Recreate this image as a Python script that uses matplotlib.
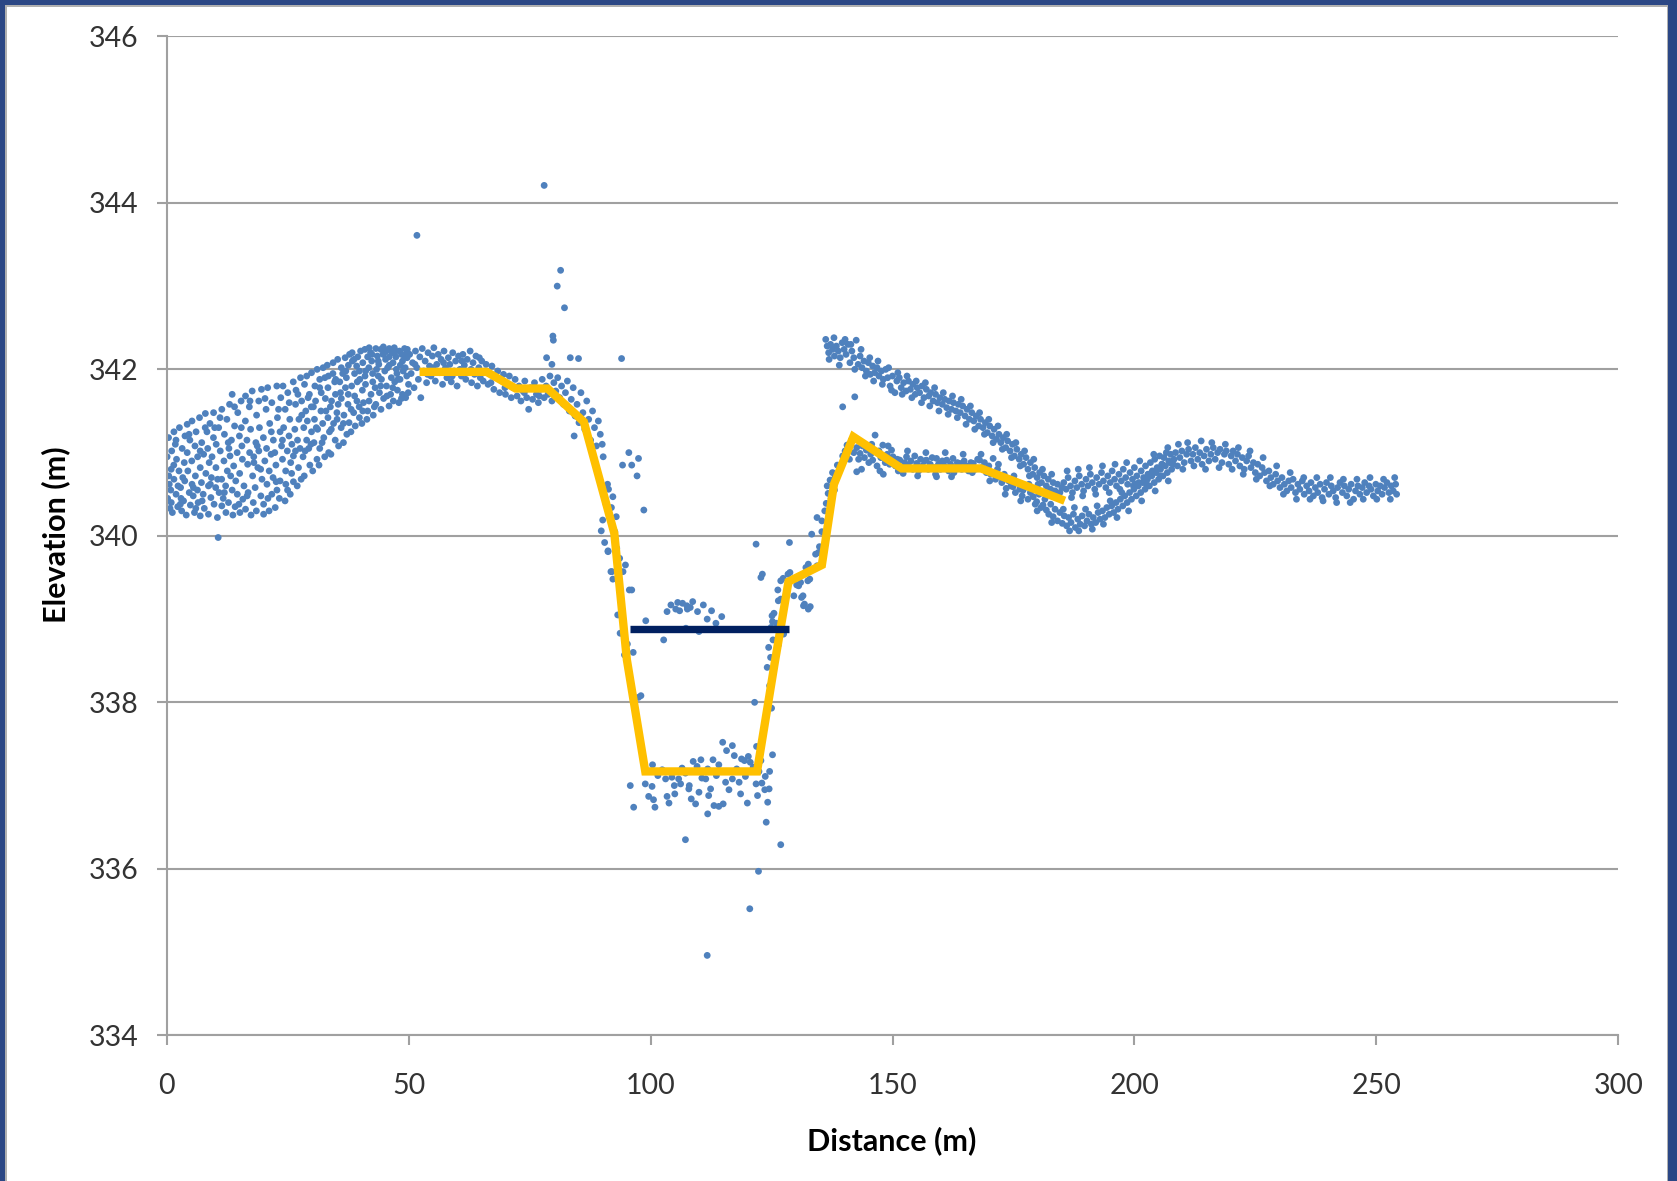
import matplotlib
matplotlib.use("Agg")
import matplotlib.pyplot as plt
from matplotlib.patches import Rectangle

# surveyed channel profile (yellow) and water level (navy)
prof_x = [53.1, 66.1, 72.1, 78.7, 86.2, 92.5, 95.1, 98.9, 122.0, 125.7, 128.5, 135.4, 137.9, 141.9, 151.9, 168.3, 184.8]
prof_y = [341.97, 341.97, 341.77, 341.77, 341.37, 340.03, 338.51, 337.17, 337.17, 338.49, 339.45, 339.65, 340.62, 341.19, 340.81, 340.81, 340.44]
water_x = [95.7, 128.7]
water_y = [338.88, 338.88]

left_slope = [
    (0.17, 340.45), (0.07, 340.95), (0.51, 340.62), (0.36, 341.18), (0.66, 340.33), (0.41, 340.72),
    (0.82, 340.55), (1.01, 341.02), (0.92, 340.40), (1.44, 340.85), (1.15, 340.28), (1.47, 341.25),
    (1.47, 340.68), (1.91, 340.50), (1.76, 341.10), (2.26, 340.35), (2.01, 340.92), (2.32, 340.60),
    (2.61, 341.30), (2.52, 340.78), (2.94, 340.45), (2.85, 340.58), (3.17, 341.05), (3.07, 340.30),
    (3.61, 340.88), (3.46, 340.42), (3.76, 341.20), (3.71, 340.66), (4.02, 340.25), (4.21, 341.34),
    (4.22, 341.00), (4.64, 340.52), (4.35, 340.78), (4.87, 340.37), (4.77, 341.15), (5.21, 340.62),
    (5.16, 340.90), (5.46, 340.48), (5.21, 341.38), (5.72, 340.28), (5.91, 340.72), (5.82, 341.08),
    (6.34, 340.55), (6.05, 341.25), (6.37, 340.95), (6.47, 340.40), (6.91, 340.82), (6.76, 341.42),
    (7.16, 340.64), (6.91, 340.24), (7.22, 341.12), (7.61, 340.98), (7.52, 340.50), (7.94, 341.30),
    (7.75, 340.33), (8.07, 340.75), (7.97, 341.47), (8.61, 340.60), (8.46, 341.05), (8.76, 340.88),
    (8.61, 340.26), (8.92, 341.35), (9.11, 340.46), (9.22, 340.70), (9.64, 341.18), (9.35, 340.95),
    (9.77, 340.38), (9.67, 341.48), (10.11, 340.58), (10.16, 340.82), (10.46, 340.22), (10.21, 341.10),
    (10.62, 339.98), (10.81, 340.52), (10.72, 341.30), (11.34, 340.68), (11.05, 341.02), (11.37, 340.36),
    (11.37, 341.52), (11.81, 340.90), (11.66, 340.45), (12.16, 340.60), (11.91, 341.22), (12.22, 340.28),
    (12.51, 340.78), (12.42, 341.40), (12.84, 341.05), (12.75, 340.40), (13.07, 340.96), (12.97, 341.58),
    (13.51, 340.55), (13.36, 341.15), (13.66, 340.25), (13.51, 341.70), (13.82, 340.84), (14.01, 341.32),
    (14.12, 340.35), (14.54, 341.00), (14.25, 340.66), (14.67, 341.48), (14.57, 340.50), (15.01, 341.20),
    (15.06, 340.75), (15.36, 341.62), (15.11, 340.28), (15.52, 341.08), (15.71, 340.44), (15.62, 340.92),
    (16.24, 341.38), (15.95, 340.60), (16.27, 341.68), (16.27, 340.32), (16.71, 340.86), (16.56, 341.15),
    (17.06, 341.55), (16.81, 340.52), (17.12, 341.00), (17.41, 340.25), (17.32, 341.28), (17.74, 340.72),
    (17.65, 341.74), (17.97, 340.95), (17.87, 340.40), (18.41, 341.12), (18.26, 340.58), (18.56, 341.45),
    (18.51, 340.30), (18.82, 340.82), (19.01, 341.62), (19.02, 341.02), (19.44, 340.48), (19.15, 341.30),
    (19.67, 340.68), (19.57, 341.76), (20.01, 340.26), (19.96, 341.18), (20.26, 340.90), (20.01, 340.38),
    (20.52, 341.52), (20.71, 340.62), (20.62, 341.05), (21.14, 340.30), (20.85, 341.78), (21.17, 340.78),
    (21.27, 341.35), (21.71, 340.50), (21.56, 340.98), (21.96, 340.70), (21.71, 341.60), (22.02, 341.15),
    (22.41, 340.34), (22.32, 341.00), (22.74, 341.80), (22.55, 340.85), (22.87, 341.42), (22.77, 340.55),
    (23.41, 341.25), (23.26, 340.45), (23.56, 341.66), (23.41, 340.66), (23.72, 341.08), (23.91, 340.92),
    (24.02, 341.80), (24.44, 340.42), (24.15, 341.30), (24.57, 340.78), (24.47, 341.52), (24.91, 341.02),
    (24.96, 340.55), (25.26, 341.20), (25.01, 341.72), (25.42, 341.40), (25.61, 340.88), (25.52, 340.50),
    (26.14, 341.85), (25.85, 341.10), (26.17, 340.65), (26.17, 340.96), (26.61, 341.58), (26.46, 341.28),
    (26.96, 340.60), (26.71, 341.75), (27.02, 341.15), (27.31, 341.40), (27.22, 340.82), (27.64, 341.90),
    (27.55, 341.05), (27.87, 341.62), (27.77, 340.68), (28.31, 341.30), (28.16, 340.95), (28.46, 341.82),
    (28.41, 340.72), (28.72, 341.50), (28.91, 341.15), (28.92, 341.92), (29.34, 341.05), (29.05, 341.38),
    (29.57, 340.85), (29.47, 341.70), (29.91, 341.25), (29.86, 341.55), (30.16, 340.78), (29.91, 341.96),
    (30.42, 341.12), (30.61, 341.80), (30.52, 341.40), (31.04, 340.92), (30.75, 341.62), (31.07, 342.00),
    (31.17, 341.28), (31.61, 341.88), (31.46, 340.85), (31.86, 341.50), (31.61, 341.05), (31.92, 341.72),
    (32.31, 342.02), (32.22, 341.35), (32.64, 340.95), (32.45, 341.18), (32.77, 341.65), (32.67, 341.90),
    (33.31, 341.42), (33.16, 342.05), (33.46, 341.00), (33.31, 341.78), (33.62, 341.25), (33.81, 341.55),
    (33.92, 340.98), (34.34, 341.95), (34.05, 341.62), (34.47, 341.35), (34.37, 342.08), (34.81, 341.15),
    (34.86, 341.70), (35.16, 341.48), (34.91, 341.88), (35.32, 342.12), (35.51, 341.08), (35.42, 341.58),
    (36.04, 341.30), (35.75, 341.85), (36.07, 342.02), (36.07, 341.65), (36.51, 341.12), (36.36, 341.95),
    (36.86, 342.14), (36.61, 341.45), (36.92, 341.78), (37.21, 341.22), (37.12, 341.90), (37.54, 342.05),
    (37.45, 341.58), (37.77, 342.18), (37.67, 341.36), (38.21, 341.80), (38.06, 341.25), (38.36, 342.10),
    (38.31, 342.20), (38.62, 341.48), (38.81, 341.95), (38.82, 341.68), (39.24, 342.04), (38.95, 341.32),
    (39.47, 342.15), (39.37, 341.85), (39.81, 341.42), (39.76, 341.55), (40.06, 342.22), (39.81, 341.98),
    (40.32, 341.35), (40.51, 342.08), (40.42, 341.75), (40.94, 342.24), (40.65, 341.60), (40.97, 341.92),
    (41.07, 341.82), (41.51, 342.15), (41.36, 341.40), (41.76, 342.02), (41.51, 341.50), (41.82, 342.26),
    (42.21, 341.70), (42.12, 342.20), (42.54, 341.95), (42.35, 342.10), (42.67, 341.45), (42.57, 341.85),
    (43.21, 342.25), (43.06, 341.78), (43.36, 342.00), (43.21, 341.58), (43.52, 342.16), (43.71, 341.92),
    (43.82, 342.06), (44.24, 342.24), (43.95, 341.72), (44.37, 341.88), (44.27, 341.52), (44.71, 342.18),
    (44.76, 342.27), (45.06, 341.98), (44.81, 341.65), (45.22, 342.12), (45.41, 341.80), (45.32, 342.22),
    (45.94, 341.56), (45.65, 342.02), (45.97, 342.15), (45.97, 342.25), (46.41, 341.90), (46.26, 341.70),
    (46.76, 342.08), (46.51, 342.20), (46.82, 341.62), (47.11, 341.85), (47.02, 342.26), (47.44, 342.00),
    (47.35, 342.15), (47.67, 341.75), (47.57, 341.95), (48.11, 342.22), (47.96, 341.60), (48.26, 342.05),
    (48.21, 341.88), (48.52, 342.18), (48.71, 341.70), (48.72, 342.10), (49.14, 342.25), (48.85, 341.98),
    (49.37, 341.66), (49.27, 342.02), (49.71, 342.20), (49.66, 342.14), (49.96, 341.82), (49.71, 342.24),
]

left_slope_fill = [
    (0.9, 340.80), (1.9, 341.15), (2.8, 340.38), (3.3, 340.70), (4.6, 341.22), (5.5, 340.58),
    (6.0, 340.33), (6.9, 341.02), (7.3, 340.42), (8.3, 341.25), (9.0, 340.62), (9.9, 341.30),
    (10.5, 340.68), (11.0, 341.42), (11.9, 340.52), (12.7, 341.12), (13.2, 340.72), (14.0, 341.55),
    (14.9, 340.38), (15.4, 341.30), (16.6, 340.48), (17.2, 341.62), (18.0, 340.88), (18.7, 341.08),
    (19.4, 340.80), (20.3, 341.65), (20.9, 340.45), (21.6, 341.25), (22.6, 340.65), (23.1, 341.52),
    (23.9, 341.15), (24.6, 340.62), (25.3, 341.60), (25.8, 340.75), (26.6, 341.02), (27.1, 341.70),
    (27.9, 341.45), (28.6, 341.02), (29.2, 341.66), (29.8, 341.10), (30.3, 341.55), (30.9, 341.30),
    (31.6, 341.78), (32.1, 341.12), (32.9, 341.50), (33.4, 341.92), (34.0, 341.28), (34.7, 341.85),
    (35.2, 341.40), (35.9, 341.72), (36.5, 341.35), (37.0, 341.98), (37.5, 341.70), (38.1, 341.52),
    (38.7, 342.12), (39.3, 341.62), (39.9, 341.88), (40.5, 341.50), (41.1, 341.98), (41.8, 341.62),
    (42.4, 342.18), (42.9, 341.55), (43.7, 342.10), (44.2, 341.80), (44.9, 342.20), (45.5, 341.68),
    (46.0, 342.05), (46.7, 341.78), (47.3, 342.22), (47.8, 341.88), (48.5, 341.65), (49.1, 342.16),
    (49.6, 341.92), (49.9, 341.72),
]

crest = [
    (50.2, 342.18), (50.5, 341.95), (50.8, 342.08), (51.1, 341.78), (51.4, 342.22), (51.7, 342.02),
    (52.0, 341.88), (52.3, 342.15), (52.5, 341.66), (52.8, 342.25), (53.1, 341.98), (53.4, 342.10),
    (53.7, 341.84), (54.0, 342.20), (54.3, 342.04), (54.6, 341.92), (54.9, 342.16), (55.2, 342.26),
    (55.5, 341.86), (55.8, 342.06), (56.1, 342.18), (56.4, 341.96), (56.7, 342.12), (57.0, 341.82),
    (57.3, 342.22), (57.6, 342.02), (57.9, 341.90), (58.2, 342.14), (58.5, 342.06), (58.8, 341.85),
    (59.1, 342.20), (59.4, 341.98), (59.7, 342.10), (60.0, 341.80), (60.3, 342.16), (60.6, 342.00),
    (60.9, 341.92), (61.2, 342.18), (61.5, 342.05), (61.8, 341.88), (62.1, 342.12), (62.4, 341.96),
    (62.7, 342.22), (63.0, 341.84), (63.3, 342.08), (63.6, 341.94), (63.9, 342.16), (64.2, 341.80),
    (64.5, 342.02), (64.8, 341.90), (65.1, 342.10), (65.4, 341.86), (65.7, 341.98), (66.0, 342.06),
    (66.4, 341.82), (66.8, 341.95), (67.2, 342.04), (67.6, 341.76), (68.0, 341.90), (68.4, 341.98),
    (68.8, 341.72), (69.2, 341.86), (69.6, 341.94), (70.0, 341.70), (70.4, 341.82), (70.8, 341.92),
    (71.2, 341.66), (71.6, 341.78), (72.0, 341.88), (72.4, 341.68), (72.8, 341.80), (73.2, 341.62),
    (73.6, 341.74), (74.0, 341.86), (74.4, 341.66), (74.8, 341.52), (75.2, 341.78), (75.6, 341.64),
    (76.0, 341.84), (76.4, 341.70), (76.8, 341.60), (77.2, 341.76), (77.6, 341.88), (78.0, 341.66),
    (78.4, 341.80), (78.8, 341.70), (79.2, 341.92), (79.6, 341.62), (80.0, 341.84), (80.4, 341.74),
    (80.8, 341.90), (81.2, 341.66), (81.6, 341.80), (82.0, 341.58), (82.4, 341.72), (82.8, 341.86),
    (83.2, 341.50), (83.6, 341.64), (84.0, 341.78), (84.2, 341.20), (84.4, 341.44), (84.8, 341.58),
    (85.2, 341.36), (85.6, 341.72), (86.0, 341.48), (86.4, 341.28), (86.8, 341.62), (87.2, 341.40),
    (87.6, 341.15), (88.0, 341.50), (88.4, 341.30), (88.8, 341.08), (89.2, 341.38), (89.6, 341.22),
    (90.0, 341.10), (90.2, 340.95),
    (51.3, 342.06), (53.9, 341.94), (55.0, 342.02), (57.2, 342.08), (59.0, 341.92), (61.0, 342.10),
    (62.9, 342.00), (64.6, 342.14), (67.0, 341.84), (69.9, 341.78), (73.9, 341.72), (77.0, 341.68),
]

bank_left = [
    (89.8, 340.06), (90.1, 340.19), (90.5, 339.92), (91.1, 340.62), (91.3, 340.56), (91.2, 339.82),
    (91.9, 340.34), (92.2, 340.47), (92.0, 339.57), (92.2, 339.48), (92.9, 340.23), (93.6, 339.73),
    (94.3, 339.57), (94.8, 339.65), (93.2, 339.05), (93.6, 339.05), (93.7, 338.83), (94.1, 338.83),
    (94.6, 338.57), (95.6, 339.35), (96.1, 339.35), (91.8, 339.57), (90.8, 340.38), (92.6, 340.05),
    (93.0, 339.85), (91.2, 339.81), (98.0, 338.08), (95.2, 338.70), (96.4, 338.60), (97.5, 338.06),
    (94.2, 340.85), (95.5, 341.00), (97.5, 340.93), (96.1, 340.85), (97.2, 340.72), (98.6, 340.31),
]

water_pts = [
    (104.2, 339.17), (105.6, 339.20), (106.6, 339.19), (107.5, 339.16), (108.7, 339.21),
    (103.4, 339.09), (105.2, 339.12), (107.6, 339.12), (109.7, 339.09), (110.9, 339.17),
    (112.6, 339.10), (111.7, 339.00), (114.7, 339.03), (99.0, 338.98), (107.3, 338.89),
    (110.0, 338.85), (102.7, 338.75), (106.0, 339.10), (108.2, 339.14), (113.5, 338.95),
]

bed_pts = [
    (95.8, 337.00), (96.5, 336.74), (98.9, 337.02), (100.3, 336.99), (99.6, 336.87), (100.6, 336.83),
    (100.9, 336.74), (103.4, 336.87), (103.8, 336.79), (105.0, 336.90), (107.9, 336.96), (108.4, 336.84),
    (109.3, 336.78), (110.0, 336.92), (111.4, 337.08), (112.4, 336.96), (113.1, 336.76), (114.1, 336.75),
    (115.0, 336.78), (115.5, 337.04), (116.9, 337.08), (118.6, 336.90), (120.0, 336.79), (118.3, 337.04),
    (119.6, 337.11), (122.4, 337.17), (124.5, 336.96), (100.4, 337.25), (102.4, 337.19), (104.4, 337.10),
    (106.5, 337.21), (109.6, 337.23), (110.6, 337.09), (114.1, 337.25), (103.1, 337.08), (105.8, 337.08),
    (108.0, 337.00), (114.9, 337.52), (116.9, 337.48), (115.7, 337.42), (112.9, 337.31), (108.8, 337.29),
    (110.4, 337.31), (117.3, 337.36), (118.8, 337.32), (120.2, 337.35), (121.9, 337.47), (125.2, 337.37),
    (124.6, 337.17), (123.7, 337.11), (123.0, 337.03), (123.6, 336.95), (124.2, 336.80), (123.9, 336.56),
    (119.4, 337.30), (120.6, 337.28), (121.2, 337.22), (122.8, 337.30), (117.8, 337.20), (113.6, 337.12),
    (111.8, 337.20), (107.2, 337.15), (101.5, 337.12), (106.2, 337.02), (104.9, 337.00), (112.0, 336.88),
    (116.2, 336.95), (121.8, 337.02), (122.1, 336.88), (121.5, 338.00), (125.0, 337.93),
]

bank_right = [
    (121.8, 339.90), (128.7, 339.92), (123.1, 339.54), (128.8, 339.56), (127.4, 339.49), (126.3, 339.35),
    (126.9, 339.24), (125.5, 339.07), (125.2, 338.97), (127.6, 338.85), (129.6, 339.28), (130.6, 339.40),
    (131.5, 339.28), (131.8, 339.18), (133.0, 339.15), (132.9, 339.48), (132.6, 339.66), (134.4, 339.64),
    (133.3, 340.02), (134.4, 340.22), (134.9, 339.87), (134.7, 339.80), (131.0, 339.44), (122.8, 339.50),
    (125.1, 339.04), (124.4, 338.66), (124.8, 338.54), (124.1, 338.42), (126.9, 339.46), (128.4, 339.54),
    (130.2, 339.41), (131.2, 339.26), (131.6, 339.16), (132.6, 339.12), (132.5, 339.46), (126.4, 339.22),
    (127.5, 338.82), (126.4, 338.69), (132.1, 339.62), (134.1, 339.78), (124.6, 338.20), (125.3, 338.75),
    (124.9, 338.90), (126.0, 338.95), (135.4, 340.18), (135.4, 340.05), (136.0, 340.30), (136.3, 340.39),
    (136.7, 340.51), (137.1, 340.67), (137.6, 340.76), (136.5, 340.60), (137.3, 340.45), (138.0, 340.55),
]

terrace = [
    (138.1, 340.70), (138.6, 340.85), (139.2, 340.80), (139.7, 340.96), (140.2, 341.02), (140.6, 341.09),
    (141.1, 340.92), (141.5, 341.15), (142.0, 341.00), (142.6, 341.06), (142.6, 340.77), (143.0, 340.92),
    (143.3, 340.99), (143.8, 341.08), (144.2, 340.94), (144.6, 341.03), (145.1, 340.88), (145.5, 340.98),
    (145.9, 340.91), (146.4, 341.21), (146.8, 340.84), (147.2, 341.02), (147.6, 340.94), (148.0, 341.09),
    (148.1, 340.74), (148.5, 340.88), (148.9, 340.98), (149.4, 340.86), (149.8, 341.03), (150.1, 340.95),
    (150.6, 340.84), (151.0, 340.92), (151.5, 340.91), (151.9, 340.80), (152.2, 340.75), (152.5, 340.88),
    (152.9, 340.95), (153.3, 340.84), (153.8, 340.90), (154.2, 340.80), (154.6, 340.96), (155.0, 340.87),
    (155.4, 340.78), (155.8, 340.92), (156.2, 340.84), (156.6, 340.90), (157.0, 340.91), (157.4, 340.80),
    (157.8, 340.86), (158.2, 340.94), (158.6, 340.82), (159.1, 340.93), (159.1, 340.71), (159.5, 340.86),
    (159.9, 340.80), (160.3, 340.90), (160.7, 340.84), (161.2, 340.91), (161.6, 340.78), (162.0, 340.86),
    (162.5, 340.93), (162.2, 340.71), (162.9, 340.82), (163.4, 340.88), (163.9, 340.87), (164.3, 340.80),
    (164.8, 340.90), (165.2, 340.84), (165.7, 340.78), (166.2, 340.88), (166.7, 340.87), (167.1, 340.80),
    (167.6, 340.92), (168.0, 340.91), (168.5, 340.82), (169.0, 340.88), (169.4, 340.76), (169.9, 340.84),
    (170.3, 340.74), (170.8, 340.93), (170.8, 340.75), (171.3, 340.68), (171.7, 340.80), (172.2, 340.71),
    (172.6, 340.64), (173.1, 340.74), (173.5, 340.57), (174.0, 340.66), (174.5, 340.60), (174.9, 340.59),
    (175.4, 340.52), (175.8, 340.64), (176.3, 340.56), (176.8, 340.48), (177.0, 340.55), (177.5, 340.60),
    (178.0, 340.44), (178.5, 340.52), (179.1, 340.47), (179.5, 340.38), (179.8, 340.41), (180.3, 340.50),
    (180.7, 340.34), (181.1, 340.37), (181.5, 340.44), (181.8, 340.31), (182.3, 340.26), (182.7, 340.38),
    (183.2, 340.23), (183.6, 340.32), (184.1, 340.18),
    (143.6, 340.80), (145.7, 341.10), (147.4, 340.78), (149.1, 341.08), (151.2, 340.78), (153.1, 341.02),
    (155.2, 340.72), (156.9, 341.00), (158.9, 340.74), (160.9, 341.00), (162.7, 340.76), (164.6, 340.98),
    (166.5, 340.76), (168.3, 340.98), (170.1, 340.66), (171.9, 340.86), (173.3, 340.50), (175.1, 340.72),
    (176.5, 340.42), (178.2, 340.62), (179.9, 340.30), (181.3, 340.52), (182.9, 340.16),
]

upper_band = [
    (136.2, 342.36), (136.5, 342.28), (136.8, 342.20), (137.2, 342.30), (137.6, 342.24), (138.0, 342.16),
    (138.4, 342.28), (138.8, 342.22), (139.2, 342.14), (139.6, 342.32), (140.0, 342.24), (140.4, 342.18),
    (140.8, 342.30), (141.2, 342.08), (141.6, 342.22), (142.0, 342.14), (142.5, 342.35), (142.9, 342.06),
    (143.3, 342.16), (143.7, 342.02), (144.1, 342.10), (144.6, 341.98), (145.0, 342.08), (145.4, 341.94),
    (145.9, 342.04), (146.3, 341.96), (146.8, 342.02), (147.2, 341.92), (147.7, 341.98), (148.1, 341.88),
    (148.6, 342.00), (149.0, 341.90), (149.5, 341.80), (150.0, 341.92), (150.5, 341.72), (150.9, 341.86),
    (151.4, 341.90), (151.8, 341.78), (152.3, 341.84), (152.8, 341.74), (153.3, 341.86), (153.7, 341.76),
    (154.2, 341.82), (154.7, 341.70), (155.1, 341.78), (155.6, 341.72), (156.1, 341.80), (156.5, 341.66),
    (157.0, 341.76), (157.5, 341.68), (157.9, 341.72), (158.4, 341.62), (158.9, 341.70), (159.3, 341.60),
    (159.8, 341.66), (160.3, 341.58), (160.8, 341.64), (161.2, 341.54), (161.7, 341.62), (162.2, 341.52),
    (162.6, 341.60), (163.1, 341.50), (163.6, 341.58), (164.0, 341.48), (164.5, 341.56), (165.0, 341.44),
    (165.4, 341.52), (165.9, 341.40), (166.4, 341.48), (166.8, 341.38), (167.3, 341.44), (167.8, 341.32),
    (168.2, 341.40), (168.7, 341.30), (169.2, 341.36), (169.6, 341.24), (170.1, 341.32), (170.6, 341.20),
    (171.0, 341.28), (171.5, 341.16), (172.0, 341.22), (172.4, 341.12), (172.9, 341.18), (173.4, 341.06),
    (173.8, 341.14), (174.3, 341.02), (174.8, 341.10), (175.2, 340.96), (175.7, 341.04), (176.2, 340.92),
    (176.6, 340.98), (177.1, 340.86), (177.6, 340.94), (178.0, 340.80), (178.5, 340.88), (179.0, 340.74),
    (179.4, 340.82), (179.9, 340.70), (180.4, 340.76), (180.8, 340.64), (181.3, 340.72), (181.8, 340.60),
    (182.2, 340.68), (182.7, 340.56), (183.2, 340.64), (183.6, 340.54), (184.1, 340.62), (184.6, 340.52),
    (185.0, 340.58),
    (185.4, 340.64), (185.9, 340.56), (186.3, 340.70), (186.8, 340.60), (187.2, 340.52), (187.7, 340.66),
    (188.1, 340.58), (188.6, 340.72), (189.1, 340.62), (189.5, 340.54), (190.0, 340.68), (190.4, 340.60),
    (190.9, 340.74), (191.3, 340.64), (191.8, 340.56), (192.2, 340.70), (192.7, 340.62), (193.2, 340.76),
    (193.6, 340.66), (194.1, 340.58), (194.5, 340.72), (195.0, 340.64), (195.4, 340.78), (195.9, 340.68),
    (196.3, 340.60), (196.8, 340.74), (197.3, 340.66), (197.7, 340.80), (198.2, 340.70), (198.6, 340.62),
    (199.1, 340.76), (199.6, 340.68), (200.0, 340.82), (200.5, 340.72), (200.9, 340.64), (201.4, 340.78),
    (201.9, 340.70), (202.3, 340.84), (202.8, 340.74), (203.3, 340.88), (203.7, 340.78), (204.2, 340.92),
    (204.7, 340.82), (205.2, 340.96), (205.7, 340.86), (206.1, 340.94), (206.6, 341.00), (207.1, 340.90),
    (207.5, 340.98), (208.0, 340.86),
]

upper_band_fill = [
    (136.9, 342.12), (137.9, 342.38), (139.0, 342.05), (140.2, 342.36), (141.4, 342.30), (142.2, 342.00),
    (143.5, 342.24), (144.4, 341.92), (145.3, 342.14), (146.1, 341.86), (147.0, 342.10), (147.9, 341.82),
    (149.2, 342.02), (149.8, 341.75), (151.1, 341.96), (152.0, 341.70), (153.0, 341.92), (154.0, 341.66),
    (154.9, 341.86), (156.0, 341.60), (156.8, 341.84), (157.7, 341.56), (158.7, 341.78), (159.6, 341.50),
    (160.5, 341.72), (161.5, 341.46), (162.4, 341.68), (163.4, 341.42), (164.2, 341.64), (165.2, 341.34),
    (166.1, 341.56), (167.0, 341.28), (168.0, 341.48), (169.0, 341.22), (169.9, 341.40), (170.8, 341.12),
    (171.8, 341.32), (172.7, 341.04), (173.6, 341.22), (174.6, 340.94), (175.5, 341.12), (176.4, 340.84),
    (177.3, 341.02), (178.3, 340.72), (179.2, 340.92), (180.1, 340.62), (181.0, 340.80), (182.0, 340.52),
    (182.9, 340.74), (183.9, 340.48),
    (186.1, 340.78), (187.0, 340.46), (188.4, 340.80), (189.3, 340.48), (190.7, 340.82), (192.0, 340.50),
    (193.4, 340.84), (194.8, 340.52), (196.0, 340.86), (197.0, 340.56), (198.4, 340.88), (199.8, 340.60),
    (201.1, 340.90), (202.5, 340.62), (204.0, 340.98), (205.4, 340.72), (206.9, 341.06),
]

dip_band = [
    (184.6, 340.28), (185.1, 340.15), (185.5, 340.24), (186.0, 340.12), (186.4, 340.22), (186.9, 340.16),
    (187.4, 340.26), (187.8, 340.10), (188.3, 340.20), (188.8, 340.14), (189.2, 340.24), (189.7, 340.12),
    (190.2, 340.18), (190.6, 340.26), (191.1, 340.14), (191.5, 340.22), (192.0, 340.16), (192.5, 340.28),
    (192.9, 340.20), (193.4, 340.30), (193.9, 340.22), (194.3, 340.34), (194.8, 340.26), (195.3, 340.36),
    (195.7, 340.28), (196.2, 340.40), (196.6, 340.32), (197.1, 340.44), (197.6, 340.36), (198.0, 340.48),
    (198.5, 340.40), (199.0, 340.52), (199.4, 340.44), (199.9, 340.56), (200.4, 340.48), (200.8, 340.60),
    (201.3, 340.52), (201.7, 340.64), (202.2, 340.56), (202.7, 340.68), (203.1, 340.60), (203.6, 340.72),
    (204.1, 340.64), (204.5, 340.76), (205.0, 340.68), (205.4, 340.80), (205.9, 340.72), (206.4, 340.84),
    (206.8, 340.76), (207.3, 340.88), (207.7, 340.80), (208.2, 340.92),
    (185.3, 340.32), (186.6, 340.06), (187.6, 340.34), (188.5, 340.06), (189.9, 340.32), (191.3, 340.08),
    (192.3, 340.36), (193.6, 340.14), (195.0, 340.42), (196.4, 340.22), (197.4, 340.52), (198.8, 340.30),
    (200.1, 340.62), (201.5, 340.42), (202.9, 340.74), (204.3, 340.54), (205.7, 340.86), (207.0, 340.66),
]

right_band = [
    (208.5, 341.00), (208.9, 340.84), (209.4, 340.94), (209.8, 341.02), (210.3, 340.88), (210.8, 340.98),
    (211.2, 341.04), (211.7, 340.90), (212.1, 340.98), (212.6, 341.06), (213.1, 340.92), (213.5, 341.00),
    (214.0, 340.86), (214.4, 340.96), (214.9, 341.04), (215.4, 340.90), (215.8, 340.98), (216.3, 341.06),
    (216.7, 340.92), (217.2, 341.00), (217.7, 341.04), (218.1, 340.88), (218.6, 340.98), (219.0, 341.02),
    (219.5, 340.86), (220.0, 340.96), (220.4, 341.02), (220.9, 340.90), (221.3, 340.98), (221.8, 340.84),
    (222.3, 340.94), (222.7, 340.80), (223.2, 340.90), (223.6, 340.96), (224.1, 340.82), (224.6, 340.88),
    (225.0, 340.76), (225.5, 340.86), (225.9, 340.72), (226.4, 340.82), (226.9, 340.76), (227.3, 340.66),
    (227.8, 340.78), (228.2, 340.70), (228.7, 340.62), (229.2, 340.74), (229.6, 340.66), (230.1, 340.58),
    (230.5, 340.70), (231.0, 340.62), (231.5, 340.54), (231.9, 340.66), (232.4, 340.58), (232.8, 340.68),
    (233.3, 340.52), (233.8, 340.62), (234.2, 340.56), (234.7, 340.66), (235.1, 340.50), (235.6, 340.60),
    (236.1, 340.54), (236.5, 340.64), (237.0, 340.48), (237.4, 340.58), (237.9, 340.52), (238.4, 340.62),
    (238.8, 340.46), (239.3, 340.56), (239.7, 340.64), (240.2, 340.50), (240.7, 340.60), (241.1, 340.54),
    (241.6, 340.46), (242.0, 340.58), (242.5, 340.64), (243.0, 340.52), (243.4, 340.60), (243.9, 340.48),
    (244.3, 340.56), (244.8, 340.62), (245.3, 340.44), (245.7, 340.54), (246.2, 340.60), (246.6, 340.50),
    (247.1, 340.58), (247.6, 340.64), (248.0, 340.52), (248.5, 340.60), (248.9, 340.56), (249.4, 340.48),
    (249.9, 340.62), (250.3, 340.54), (250.8, 340.60), (251.2, 340.50), (251.7, 340.58), (252.2, 340.64),
    (252.6, 340.52), (253.1, 340.60), (253.5, 340.54), (254.0, 340.62), (254.2, 340.50),
    (209.1, 341.10), (210.0, 340.80), (211.0, 341.12), (212.3, 340.84), (213.8, 341.14), (214.7, 340.80),
    (216.0, 341.12), (217.5, 340.82), (218.8, 341.10), (220.2, 340.80), (221.5, 341.06), (222.5, 340.74),
    (223.9, 341.02), (225.2, 340.68), (226.6, 340.94), (228.0, 340.60), (229.4, 340.84), (230.8, 340.50),
    (232.2, 340.76), (233.5, 340.44), (235.0, 340.70), (236.3, 340.44), (237.7, 340.70), (239.0, 340.42),
    (240.5, 340.70), (241.8, 340.40), (243.2, 340.68), (244.6, 340.40), (246.0, 340.68), (247.3, 340.44),
    (248.7, 340.70), (250.1, 340.44), (251.5, 340.68), (252.9, 340.44), (253.8, 340.70),
]

outliers = [
    (51.7, 343.61), (78.0, 344.21), (81.4, 343.19), (80.7, 343.00), (82.2, 342.74), (79.8, 342.40),
    (79.9, 342.35), (78.5, 342.14), (79.6, 342.06), (85.1, 342.13), (94.0, 342.13), (83.4, 342.14),
    (111.7, 334.96), (120.5, 335.52), (122.3, 335.97), (126.9, 336.29), (107.2, 336.35), (111.8, 336.66),
    (139.7, 341.55), (142.2, 341.67),
]

sections = [left_slope, left_slope_fill, crest, bank_left, water_pts, bed_pts, bank_right,
            terrace, upper_band, upper_band_fill, dip_band, right_band, outliers]
pts_x = [p[0] for sec in sections for p in sec]
pts_y = [p[1] for sec in sections for p in sec]

plt.rcParams['font.family'] = ['Lato', 'DejaVu Sans']

fig = plt.figure(figsize=(16.77, 11.81), dpi=100)
ax = fig.add_axes([166.8 / 1677, 1 - 1035.3 / 1181, 1451.4 / 1677, 998.9 / 1181])

ax.scatter(pts_x, pts_y, s=24, color='#4F81BD', edgecolors='none', zorder=2)
ax.plot(prof_x, prof_y, color='#FFC000', lw=6, solid_joinstyle='miter', zorder=3)
ax.plot(water_x, water_y, color='#002060', lw=5.3, solid_capstyle='butt', zorder=4)

ax.set_xlim(0, 300)
ax.set_ylim(334, 346)
ax.set_xticks(range(0, 301, 50))
ax.set_yticks(range(334, 347, 2))
ax.grid(axis='y', color='#A0A0A0', lw=1.5)
ax.set_axisbelow(True)
for side in ['top', 'right']:
    ax.spines[side].set_visible(False)
for side in ['left', 'bottom']:
    ax.spines[side].set_color('#A0A0A0')
    ax.spines[side].set_linewidth(1.5)
ax.tick_params(axis='both', length=7.5, width=1.5, color='#A0A0A0',
               labelsize=20.5, labelcolor='#333333')
ax.tick_params(axis='y', pad=13)
ax.tick_params(axis='x', pad=20)

fig.text(55.6 / 1677, 1 - 535 / 1181, 'Elevation (m)', rotation=90,
         ha='center', va='center', fontsize=22, fontweight='bold', color='black')
fig.text(892 / 1677, 1 - 1141 / 1181, 'Distance (m)',
         ha='center', va='center', fontsize=22, fontweight='bold', color='black')

# slide frame: dark blue edges with a thin grey inner rule
blue = '#2B4785'
fig.add_artist(Rectangle((0, 0), 5 / 1677, 1, transform=fig.transFigure, color=blue, lw=0))
fig.add_artist(Rectangle((0, 1 - 5 / 1181), 1, 5 / 1181, transform=fig.transFigure, color=blue, lw=0))
fig.add_artist(Rectangle((1668 / 1677, 0), 9 / 1677, 1, transform=fig.transFigure, color=blue, lw=0))
fig.add_artist(Rectangle((5 / 1677, 0), 1.5 / 1677, 1 - 5 / 1181, transform=fig.transFigure, color='#B0B0B0', lw=0))
fig.add_artist(Rectangle((5 / 1677, 1 - 6.5 / 1181), 1663 / 1677, 1.5 / 1181, transform=fig.transFigure, color='#B0B0B0', lw=0))
fig.add_artist(Rectangle((1666.5 / 1677, 0), 1.5 / 1677, 1 - 5 / 1181, transform=fig.transFigure, color='#B0B0B0', lw=0))

fig.savefig('out.png', dpi=100, facecolor='white')
